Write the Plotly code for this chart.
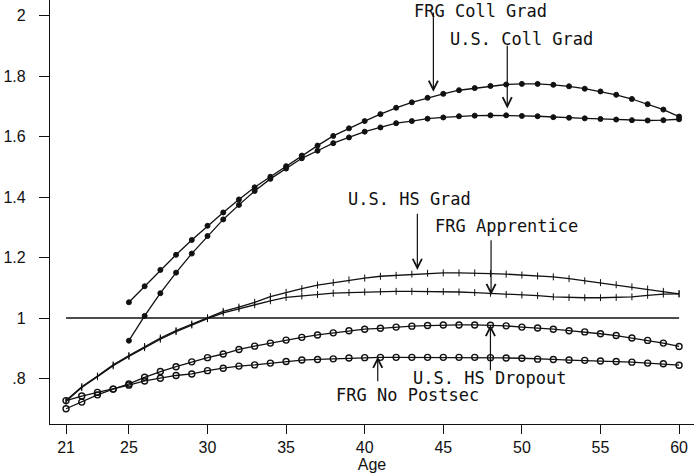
import plotly.graph_objects as go

ages_all = list(range(21, 61))
ages_coll = list(range(25, 61))

frg_coll_grad = [1.052, 1.105, 1.159, 1.209, 1.258, 1.305, 1.349, 1.392, 1.432, 1.467,
                 1.502, 1.537, 1.570, 1.602, 1.627, 1.651, 1.674, 1.695, 1.713, 1.728,
                 1.741, 1.753, 1.760, 1.767, 1.772, 1.774, 1.774, 1.771, 1.766, 1.758,
                 1.749, 1.738, 1.724, 1.707, 1.689, 1.666]
us_coll_grad = [0.925, 1.007, 1.082, 1.150, 1.213, 1.271, 1.326, 1.374, 1.420, 1.460,
                1.494, 1.528, 1.553, 1.578, 1.597, 1.616, 1.630, 1.644, 1.651, 1.659,
                1.663, 1.667, 1.669, 1.670, 1.670, 1.668, 1.667, 1.664, 1.662, 1.660,
                1.658, 1.656, 1.654, 1.653, 1.654, 1.657]
us_hs_grad = [0.727, 0.773, 0.808, 0.845, 0.876, 0.906, 0.934, 0.958, 0.980, 1.001,
              1.022, 1.036, 1.052, 1.071, 1.085, 1.097, 1.109, 1.117, 1.126, 1.132,
              1.138, 1.141, 1.145, 1.148, 1.149, 1.149, 1.149, 1.147, 1.145, 1.142,
              1.139, 1.136, 1.130, 1.123, 1.117, 1.110, 1.103, 1.096, 1.088, 1.080]
frg_apprentice = [0.725, 0.770, 0.806, 0.842, 0.873, 0.902, 0.930, 0.955, 0.977, 0.998,
                  1.017, 1.031, 1.044, 1.057, 1.068, 1.073, 1.078, 1.082, 1.084, 1.086,
                  1.087, 1.088, 1.088, 1.088, 1.087, 1.086, 1.084, 1.082, 1.078, 1.076,
                  1.074, 1.070, 1.068, 1.067, 1.067, 1.068, 1.070, 1.075, 1.079, 1.080]
us_hs_dropout = [0.700, 0.722, 0.746, 0.765, 0.782, 0.804, 0.823, 0.839, 0.855, 0.869,
                 0.881, 0.896, 0.907, 0.917, 0.927, 0.936, 0.944, 0.951, 0.958, 0.963,
                 0.966, 0.970, 0.973, 0.975, 0.977, 0.977, 0.977, 0.976, 0.974, 0.970,
                 0.967, 0.963, 0.958, 0.954, 0.948, 0.942, 0.934, 0.926, 0.917, 0.906]
frg_no_postsec = [0.727, 0.742, 0.754, 0.765, 0.778, 0.792, 0.801, 0.810, 0.815, 0.826,
                  0.834, 0.841, 0.845, 0.851, 0.856, 0.861, 0.863, 0.865, 0.868, 0.869,
                  0.870, 0.870, 0.870, 0.870, 0.870, 0.870, 0.870, 0.869, 0.868, 0.867,
                  0.864, 0.863, 0.861, 0.860, 0.858, 0.856, 0.854, 0.851, 0.849, 0.844]

ref_x = [21, 60]
ref_y = [1, 1]

x_tickvals = [21, 25, 30, 35, 40, 45, 50, 55, 60]
y_tickvals = [0.8, 1.0, 1.2, 1.4, 1.6, 1.8, 2.0]
y_ticktext = [".8", "1", "1.2", "1.4", "1.6", "1.8", "2"]

# label: (text, text_x, text_y, yanchor, tip_x, tip_y, tail_x, tail_y)
labels = [
    ("FRG Coll Grad", 47.37, 2.0513, "top", 44.37, 1.748, 44.37, 2.015),
    ("U.S. Coll Grad", 49.98, 1.922, "middle", 49.07, 1.693, 49.07, 1.905),
    ("U.S. HS Grad", 42.85, 1.393, "middle", 43.35, 1.159, 43.35, 1.350),
    ("FRG Apprentice", 48.99, 1.305, "middle", 48.04, 1.076, 48.04, 1.262),
    ("U.S. HS Dropout", 48.00, 0.802, "middle", 48.00, 0.977, 48.00, 0.822),
    ("FRG No Postsec", 42.73, 0.744, "middle", 40.83, 0.872, 40.83, 0.786),
]

BLACK = "#111111"
fig = go.Figure()

fig.add_trace(go.Scatter(x=ref_x, y=ref_y, mode="lines",
                         line=dict(color=BLACK, width=1.4), hoverinfo="skip"))

def add_series(x, y, symbol, size, lw=1.0):
    fig.add_trace(go.Scatter(
        x=x, y=y, mode="lines+markers",
        line=dict(color=BLACK, width=1.3),
        marker=dict(symbol=symbol, size=size, color=BLACK,
                    line=dict(color=BLACK, width=lw))))

add_series(ages_coll, frg_coll_grad, "circle", 5)
add_series(ages_coll, us_coll_grad, "circle", 5)
add_series(ages_all, us_hs_grad, "line-ns", 5, 1.0)
add_series(ages_all, frg_apprentice, "line-ns", 5, 1.0)
add_series(ages_all, us_hs_dropout, "circle-open", 6, 1.4)
add_series(ages_all, frg_no_postsec, "circle-open", 6, 1.4)

font_mono = dict(family="DejaVu Sans Mono", size=17, color=BLACK)
for text, tx, ty, ya, px, py, qx, qy in labels:
    fig.add_annotation(x=tx, y=ty, text=text, showarrow=False, font=font_mono,
                       xanchor="center", yanchor=ya, borderpad=0)
    fig.add_annotation(x=px, y=py, ax=qx, ay=qy, axref="x", ayref="y", text="",
                       showarrow=True, arrowhead=5, arrowsize=1.5, arrowwidth=1.2,
                       arrowcolor=BLACK, standoff=0)

axis_font = dict(family="Liberation Sans", size=16, color=BLACK)
fig.update_layout(
    width=694, height=473,
    margin=dict(l=50, r=0, t=0, b=49),
    paper_bgcolor="white", plot_bgcolor="white",
    showlegend=False,
    xaxis=dict(range=[19.98, 60.95], tickvals=x_tickvals, ticks="outside",
               ticklen=9, tickwidth=1.3, tickcolor=BLACK, showline=True,
               linecolor=BLACK, linewidth=1.3, showgrid=False, zeroline=False,
               tickfont=axis_font, title=dict(text="Age", font=axis_font, standoff=2),
               automargin=False),
    yaxis=dict(range=[0.6496, 2.0513], tickvals=y_tickvals, ticktext=y_ticktext,
               ticks="outside", ticklen=10, tickwidth=1.3, tickcolor=BLACK,
               showline=True, linecolor=BLACK, linewidth=1.3, showgrid=False,
               zeroline=False, tickfont=axis_font, automargin=False,
               ticklabelstandoff=10),
)

fig.write_html("out.html", config={"displayModeBar": False},
               post_script="document.body.style.margin='0px';document.body.style.overflow='hidden';")
